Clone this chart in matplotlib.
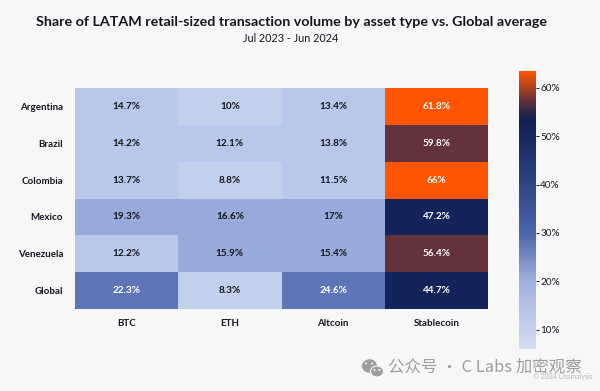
#!/usr/bin/env python3
import numpy as np
import matplotlib
matplotlib.use("Agg")
import matplotlib.pyplot as plt
from matplotlib.colors import BoundaryNorm, LinearSegmentedColormap, ListedColormap, Normalize
from matplotlib.patches import Ellipse

W, H = 600, 391

countries = ["Argentina", "Brazil", "Colombia", "Mexico", "Venezuela", "Global"]
assets = ["BTC", "ETH", "Altcoin", "Stablecoin"]
btc = [14.7, 14.2, 13.7, 19.3, 12.2, 22.3]
eth = [10, 12.1, 8.8, 16.6, 15.9, 8.3]
altcoin = [13.4, 13.8, 11.5, 17, 15.4, 24.6]
stablecoin = [61.8, 59.8, 66, 47.2, 56.4, 44.7]
cbar_ticks = [10, 20, 30, 40, 50, 60]

BG = "#f7f7f7"
TEXT = "#14151f"
MARK = "#9e9e9e"

plt.rcParams["font.family"] = ["Lato", "Noto Sans", "DejaVu Sans"]


def axes_px(fig, x0, y0, x1, y1):
    # pixel box, y measured from the top
    return fig.add_axes([x0 / W, 1 - y1 / H, (x1 - x0) / W, (y1 - y0) / H])


def fmt(v):
    return f"{v:g}%"


fig = plt.figure(figsize=(W / 100, H / 100), dpi=100, facecolor=BG)

# heatmap cells fall into bins, the colour bar itself is a smooth ramp
bins = [0, 11, 15, 20, 30, 50, 60, 100]
cell_colors = ["#c3d0eb", "#b9c8ea", "#98aad9", "#5e75b7", "#14245a", "#63323a", "#ff5500"]
cell_cmap = ListedColormap(cell_colors)
cell_norm = BoundaryNorm(bins, cell_cmap.N)

data = np.array([btc, eth, altcoin, stablecoin]).T
ax = axes_px(fig, 75, 88, 488, 309)
ax.pcolormesh(data, cmap=cell_cmap, norm=cell_norm, edgecolors="none")
ax.invert_yaxis()
for i in range(len(countries)):
    for j in range(len(assets)):
        color = "white" if data[i, j] > 20 else TEXT
        ax.text(j + 0.5, i + 0.5, fmt(data[i, j]), ha="center", va="center",
                fontsize=7.2, fontweight="bold", color=color)
ax.set_xticks(np.arange(len(assets)) + 0.5, assets)
ax.set_yticks(np.arange(len(countries)) + 0.5, countries)
ax.tick_params(axis="x", length=0, labelsize=7.0, labelcolor=TEXT, pad=7)
ax.tick_params(axis="y", length=0, labelsize=7.0, labelcolor=TEXT, pad=8.5)
for lbl in ax.get_xticklabels() + ax.get_yticklabels():
    lbl.set_fontweight("bold")
for s in ax.spines.values():
    s.set_visible(False)

# colour bar
ramp_stops = [(0.0, "#d6ddf1"), (0.243, "#a0b1dc"), (0.417, "#4c64a9"), (0.59, "#2e4686"),
              (0.765, "#17275e"), (0.83, "#10204f"), (0.90, "#6a3338"), (0.94, "#a8431f"),
              (1.0, "#ff5500")]
ramp = LinearSegmentedColormap.from_list("ramp", ramp_stops)
cax = axes_px(fig, 518.5, 71, 536, 349)
sm = plt.cm.ScalarMappable(norm=Normalize(6, 63.5), cmap=ramp)
cb = fig.colorbar(sm, cax=cax)
cb.outline.set_visible(False)
cb.set_ticks(cbar_ticks, labels=[f"{t}%" for t in cbar_ticks])
cax.tick_params(length=2, width=0.7, color=TEXT, labelsize=7.2, labelcolor=TEXT, pad=1)

fig.text(291 / W, 1 - 22 / H, "Share of LATAM retail-sized transaction volume by asset type vs. Global average",
         ha="center", va="center", fontsize=10.25, fontweight="bold", color=TEXT)
fig.text(291 / W, 1 - 39 / H, "Jul 2023 - Jun 2024", ha="center", va="center", fontsize=7.8, color=TEXT)

# watermark
fig.text(388 / W, 1 - 367 / H, "公众号 · C Labs 加密观察", ha="left", va="center", fontsize=11.9,
         color=MARK, family=["Noto Sans CJK SC", "DejaVu Sans"])
fig.text(593 / W, 1 - 377 / H, "© 2024 Chainalysis", ha="right", va="center", fontsize=5, color="#b5b5b5")

# wechat style icon in figure pixels
overlay = fig.add_axes([0, 0, 1, 1], facecolor="none")
overlay.set_xlim(0, W)
overlay.set_ylim(H, 0)
overlay.axis("off")
overlay.add_patch(Ellipse((369.5, 366), 15, 13.5, fc=MARK, ec="none"))
overlay.add_patch(Ellipse((377, 371.5), 13, 11, fc=MARK, ec=BG, lw=0.8))
for ex, ey in [(366, 363.5), (372, 363.5), (374.5, 370), (379.5, 370)]:
    overlay.add_patch(Ellipse((ex, ey), 2, 2, fc=BG, ec="none"))

fig.savefig("out.png", dpi=100, facecolor=BG)
